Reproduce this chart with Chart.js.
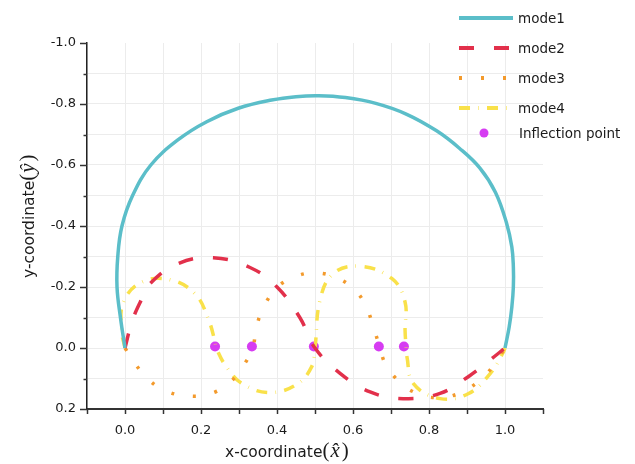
<!DOCTYPE html>
<html>
<head>
<meta charset="utf-8">
<script src="https://cdn.jsdelivr.net/npm/chart.js@4.4.1/dist/chart.umd.min.js"></script>
<style>
  html, body { margin: 0; padding: 0; background: #fff; }
  #chart { display: block; }
</style>
</head>
<body>
<canvas id="chart" width="635" height="464" style="width:635px;height:464px"></canvas>
<script>
// ---- data ----
const mode1X = [0, -0.012, -0.021, -0.019, -0.008, 0.02, 0.068, 0.14, 0.215, 0.298, 0.386, 0.45, 0.51, 0.58, 0.66, 0.74, 0.82, 0.88, 0.934, 0.975, 1.004, 1.018, 1.022, 1.022, 1.018, 1.011, 1.0];
const mode1Y = [0, -0.1, -0.2, -0.3, -0.4, -0.5, -0.6, -0.683, -0.742, -0.786, -0.813, -0.824, -0.827, -0.821, -0.802, -0.767, -0.712, -0.655, -0.59, -0.51, -0.41, -0.331, -0.266, -0.2, -0.134, -0.069, 0];

const mode2X = [0, 0.018, 0.04, 0.066, 0.14, 0.232, 0.329, 0.4, 0.46, 0.5, 0.566, 0.645, 0.732, 0.829, 0.908, 0.96, 1.0];
const mode2Y = [0, -0.085, -0.15, -0.211, -0.277, -0.296, -0.264, -0.2, -0.1, 0, 0.083, 0.144, 0.166, 0.149, 0.09, 0.04, 0];

const mode3X = [0, 0.026, 0.066, 0.11, 0.162, 0.219, 0.272, 0.308, 0.336, 0.345, 0.364, 0.399, 0.441, 0.491, 0.548, 0.601, 0.632, 0.651, 0.671, 0.686, 0.724, 0.767, 0.82, 0.877, 0.927, 0.967, 1.0];
const mode3Y = [0, 0.051, 0.108, 0.142, 0.157, 0.152, 0.117, 0.064, 0, -0.064, -0.132, -0.197, -0.23, -0.246, -0.235, -0.195, -0.143, -0.08, 0, 0.054, 0.113, 0.148, 0.163, 0.15, 0.113, 0.062, 0];

const mode4X = [0, -0.009, -0.004, 0.044, 0.118, 0.184, 0.219, 0.237, 0.24, 0.267, 0.311, 0.382, 0.452, 0.491, 0.5, 0.513, 0.548, 0.618, 0.702, 0.737, 0.737, 0.74, 0.742, 0.759, 0.829, 0.903, 0.961, 0.996, 1.0];
const mode4Y = [0, -0.058, -0.151, -0.216, -0.224, -0.178, -0.096, -0.02, 0, 0.062, 0.119, 0.146, 0.119, 0.062, 0, -0.156, -0.244, -0.268, -0.228, -0.151, -0.058, 0, 0.029, 0.117, 0.166, 0.15, 0.084, 0.013, 0];

const inflectionX = [0.237, 0.334, 0.497, 0.668, 0.734];
const inflectionY = [-0.005, -0.005, -0.005, -0.005, -0.005];

const legendLabels = ['mode1', 'mode2', 'mode3', 'mode4', 'Inflection point'];

const pts = (xs, ys) => xs.map((x, i) => ({ x, y: ys[i] }));

const FONT = '"DejaVu Sans", Verdana, sans-serif';
const INK = '#1b1b1b';

function curve(label, xs, ys, color, dash) {
  return {
    label,
    data: pts(xs, ys),
    showLine: true,
    borderColor: color,
    backgroundColor: color,
    borderWidth: 3.5,
    borderDash: dash,
    borderCapStyle: 'butt',
    pointRadius: 0,
    tension: 0.4,
    fill: false
  };
}

// tick marks: longer for labelled (major) values, short for minor ones
const tickMarks = {
  id: 'tickMarks',
  afterDraw(chart) {
    const { ctx, scales: { x, y } } = chart;
    ctx.save();
    ctx.strokeStyle = '#333';
    ctx.lineWidth = 1.5;
    x.ticks.forEach(t => {
      const px = Math.round(x.getPixelForValue(t.value)) + 0.5;
      ctx.beginPath();
      ctx.moveTo(px, x.top);
      ctx.lineTo(px, x.top + 5);
      ctx.stroke();
    });
    y.ticks.forEach(t => {
      const py = Math.round(y.getPixelForValue(t.value)) + 0.5;
      const major = Math.round(t.value * 10) % 2 === 0;
      ctx.beginPath();
      ctx.moveTo(y.right, py);
      ctx.lineTo(y.right - (major ? 7 : 3.5), py);
      ctx.stroke();
    });
    ctx.restore();
  }
};

// axis titles with the math part in serif italic
function drawTitle(ctx, base, sym) {
  ctx.font = '15.5px ' + FONT;
  ctx.fillText(base, 0, 0);
  let w = ctx.measureText(base).width;
  ctx.font = '21px "Liberation Serif", serif';
  ctx.fillText('(', w, 0);
  w += ctx.measureText('(').width + 1;
  ctx.font = 'italic 21px "Liberation Serif", serif';
  ctx.fillText(sym, w, 0);
  w += ctx.measureText(sym).width + 2;
  ctx.font = '21px "Liberation Serif", serif';
  ctx.fillText(')', w, 0);
}

const axisTitles = {
  id: 'axisTitles',
  afterDraw(chart) {
    const ctx = chart.ctx;
    ctx.save();
    ctx.fillStyle = INK;
    ctx.textBaseline = 'alphabetic';
    ctx.textAlign = 'left';
    ctx.save();
    ctx.translate(225, 457);
    drawTitle(ctx, 'x-coordinate', 'x\u0302');
    ctx.restore();
    ctx.save();
    ctx.translate(34, 278);
    ctx.rotate(-Math.PI / 2);
    drawTitle(ctx, 'y-coordinate', 'y\u0302');
    ctx.restore();
    ctx.restore();
  }
};

// legend in the top-right corner, drawn from the dataset styles
const legendBox = {
  id: 'legendBox',
  afterDraw(chart) {
    const ctx = chart.ctx;
    const rows = [18, 48, 78, 108, 133];
    ctx.save();
    chart.data.datasets.forEach((ds, i) => {
      const yy = rows[i];
      if (ds.showLine) {
        ctx.strokeStyle = ds.borderColor;
        ctx.lineWidth = 4;
        ctx.setLineDash(ds.borderDash || []);
        ctx.lineCap = 'butt';
        ctx.beginPath();
        ctx.moveTo(459, yy);
        ctx.lineTo(513, yy);
        ctx.stroke();
        ctx.setLineDash([]);
      } else {
        ctx.fillStyle = ds.backgroundColor;
        ctx.beginPath();
        ctx.arc(484, yy, 4.5, 0, Math.PI * 2);
        ctx.fill();
      }
      ctx.fillStyle = INK;
      ctx.font = '13.5px ' + FONT;
      ctx.textBaseline = 'middle';
      ctx.fillText(legendLabels[i], ds.showLine ? 518 : 519, yy + 1);
    });
    ctx.restore();
  }
};

const tickLabel = v => {
  const k = Math.round(v * 10);
  return k % 2 === 0 ? (k / 10).toFixed(1) : '';
};

new Chart(document.getElementById('chart'), {
  type: 'scatter',
  data: {
    datasets: [
      curve(legendLabels[0], mode1X, mode1Y, '#5bbec9', []),
      curve(legendLabels[1], mode2X, mode2Y, '#e2304b', [15, 20]),
      curve(legendLabels[2], mode3X, mode3Y, '#f39a2c', [3, 19]),
      curve(legendLabels[3], mode4X, mode4Y, '#f9e14a', [11, 8, 0.6, 8.4]),
      {
        label: legendLabels[4],
        data: pts(inflectionX, inflectionY),
        showLine: false,
        pointRadius: 5,
        pointBorderWidth: 0,
        backgroundColor: '#d63cf2',
        borderColor: '#d63cf2'
      }
    ]
  },
  options: {
    responsive: false,
    animation: false,
    layout: { padding: { top: 43, right: 92, left: 0, bottom: 0 } },
    plugins: { legend: { display: false }, tooltip: { enabled: false } },
    scales: {
      x: {
        type: 'linear',
        min: -0.1,
        max: 1.1,
        afterFit: s => { s.height = 55; },
        ticks: { stepSize: 0.1, autoSkip: false, maxRotation: 0, padding: 14, color: INK, font: { size: 13, family: FONT }, callback: tickLabel },
        grid: {
          drawTicks: false,
          lineWidth: 1,
          color: c => (c.tick && Math.abs(c.tick.value - 1.1) < 1e-6) ? 'rgba(0,0,0,0)' : '#ececec'
        },
        border: { display: true, color: '#333', width: 2 }
      },
      y: {
        type: 'linear',
        reverse: true,
        min: -1.0,
        max: 0.2,
        afterFit: s => { s.width = 87; },
        ticks: { stepSize: 0.1, autoSkip: false, padding: 11, color: INK, font: { size: 13, family: FONT }, callback: tickLabel },
        grid: {
          drawTicks: false,
          lineWidth: 1,
          color: c => (c.tick && Math.abs(c.tick.value + 1.0) < 1e-6) ? 'rgba(0,0,0,0)' : '#ececec'
        },
        border: { display: true, color: '#222', width: 1.5 }
      }
    }
  },
  plugins: [tickMarks, axisTitles, legendBox]
});
</script>
</body>
</html>
